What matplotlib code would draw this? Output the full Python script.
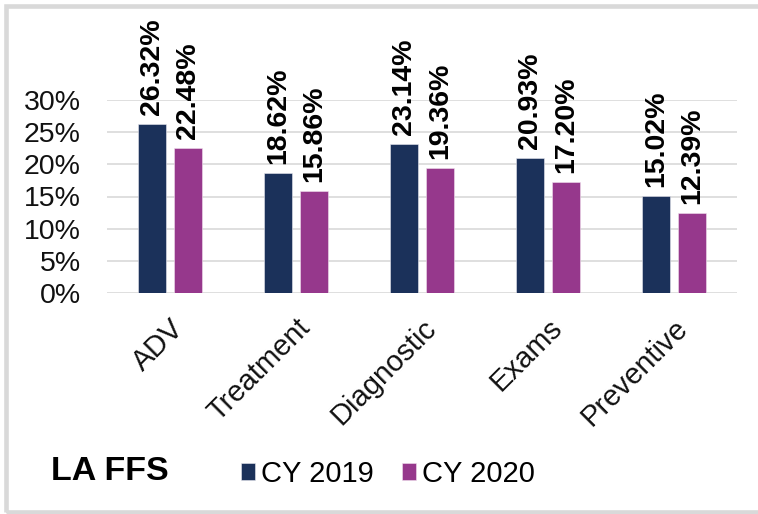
import matplotlib
matplotlib.use("Agg")
import matplotlib.pyplot as plt
from matplotlib.patches import Rectangle
import numpy as np

categories = ["ADV", "Treatment", "Diagnostic", "Exams", "Preventive"]
cy2019 = [26.32, 18.62, 23.14, 20.93, 15.02]
cy2020 = [22.48, 15.86, 19.36, 17.20, 12.39]
series_names = ["CY 2019", "CY 2020"]
yticks = [0, 5, 10, 15, 20, 25, 30]
title_text = "LA FFS"

NAVY = "#1B315A"
PURPLE = "#96388C"
GRID = "#D9D9D9"

plt.rcParams["font.family"] = ["Liberation Sans", "DejaVu Sans"]

W, H = 758, 514
fig = plt.figure(figsize=(W / 100, H / 100), dpi=100)
ax = fig.add_axes([107 / W, 1 - 293 / H, 630 / W, 193 / H])

x = np.arange(len(categories))
bw = 0.222
off = 0.143
b1 = ax.bar(x - off, cy2019, bw, color=NAVY, edgecolor="#e8e8f0", linewidth=0.4,
            label=series_names[0], zorder=3)
b2 = ax.bar(x + off, cy2020, bw, color=PURPLE, edgecolor="#f0e0ee", linewidth=0.4,
            label=series_names[1], zorder=3)

for bars, vals in ((b1, cy2019), (b2, cy2020)):
    for rect, v in zip(bars, vals):
        ax.annotate(f"{v:.2f}%", (rect.get_x() + rect.get_width() / 2, v),
                    xytext=(0, 6.5), textcoords="offset points",
                    rotation=90, ha="center", va="bottom",
                    fontsize=20.5, fontweight="bold", color="black")

ax.set_xlim(-0.5, len(categories) - 0.5)
ax.set_ylim(0, 30)
ax.set_yticks(yticks)
ax.set_yticklabels([f"{t}%" for t in yticks], fontsize=20.5, color="#111111")
ax.tick_params(axis="y", length=0, pad=19)
ax.set_xticks(x)
ax.set_xticklabels(categories, fontsize=21, rotation=45, ha="right",
                   va="top", rotation_mode="anchor", color="#111111")
ax.tick_params(axis="x", length=0, pad=15)

ax.grid(axis="y", color=GRID, linewidth=1.2, zorder=0)
ax.set_axisbelow(True)
for s in ax.spines.values():
    s.set_visible(False)

# title text at bottom-left
fig.text(51 / W, 1 - 472 / H, title_text, fontsize=24.5, fontweight="bold",
         ha="left", va="center", color="black")

leg = fig.legend(handles=[b1, b2], labels=series_names, loc="center left",
                 bbox_to_anchor=(241 / W, 1 - 474 / H), ncol=2, frameon=False,
                 fontsize=21, handlelength=0.48, handleheight=0.5,
                 handletextpad=0.22, columnspacing=0.95, borderpad=0,
                 borderaxespad=0)

# outer border
fig.patches.append(Rectangle((5.5 / W, 2.5 / H), (W + 20) / W, (H - 8.5) / H,
                             transform=fig.transFigure, fill=False,
                             edgecolor=GRID, linewidth=3.3, zorder=0))

fig.savefig("out.png", dpi=100)
